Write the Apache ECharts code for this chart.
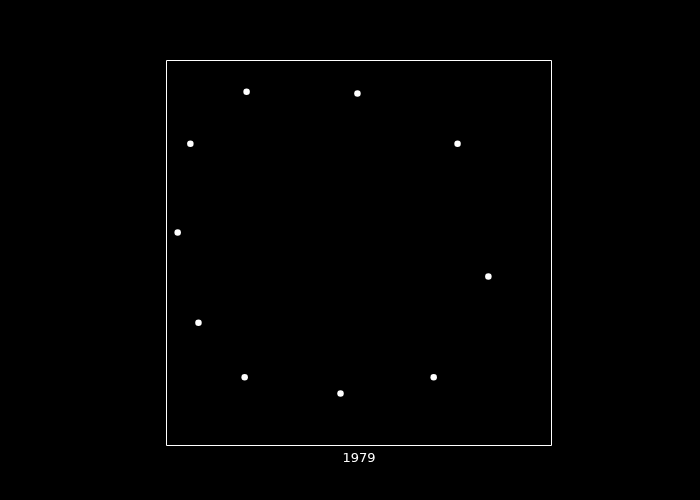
<!DOCTYPE html>
<html><head><meta charset="utf-8">
<script src="https://cdn.jsdelivr.net/npm/echarts@6/dist/echarts.min.js"></script>
<style>html,body{margin:0;padding:0;background:#000;}#c{width:700px;height:500px;}</style>
</head><body><div id="c"></div>
<script>
const xLabel = "1979";
const xValues = [20.8, 49.6, 75.6, 6.2, 2.9, 83.6, 8.3, 20.3, 45.2, 69.4];
const yValues = [91.9, 91.4, 78.4, 78.4, 55.3, 43.9, 31.9, 17.7, 13.5, 17.7];
const points = xValues.map((x, i) => [x, yValues[i]]);
const chart = echarts.init(document.getElementById('c'), null, {renderer: 'canvas'});
chart.setOption({
  backgroundColor: '#000000',
  animation: false,
  grid: {left: 166.5, top: 60.5, width: 385, height: 385, show: true, borderColor: '#ffffff', borderWidth: 1, backgroundColor: 'transparent'},
  xAxis: {type: 'value', min: 0, max: 100, name: xLabel, nameLocation: 'middle', nameGap: 7,
    nameTextStyle: {color: '#ffffff', fontSize: 13, fontFamily: 'DejaVu Sans'},
    axisLine: {show: false}, axisTick: {show: false}, axisLabel: {show: false}, splitLine: {show: false}},
  yAxis: {type: 'value', min: 0, max: 100,
    axisLine: {show: false}, axisTick: {show: false}, axisLabel: {show: false}, splitLine: {show: false}},
  series: [{type: 'scatter', data: points, symbol: 'circle', symbolSize: 6.5,
    itemStyle: {color: '#ffffff', opacity: 1}}]
});
</script></body></html>
